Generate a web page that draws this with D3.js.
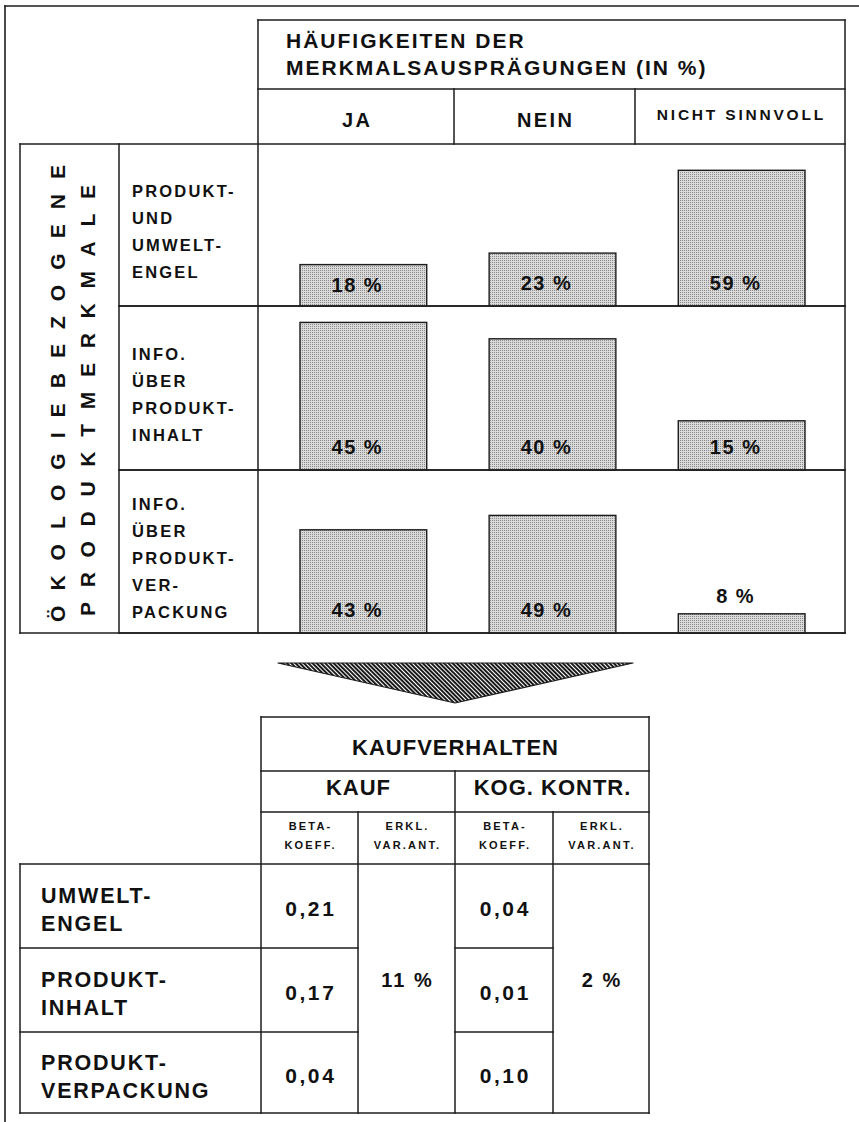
<!DOCTYPE html>
<html>
<head>
<meta charset="utf-8">
<script src="https://cdn.jsdelivr.net/npm/d3@7"></script>
<style>
  body { margin: 0; background: #fff; }
  svg { display: block; }
  text { font-family: "Liberation Sans", Arial, Helvetica, sans-serif; font-weight: bold; fill: #111; }
</style>
</head>
<body>
<script>
// chart data
var answers = ["JA", "NEIN", "NICHT SINNVOLL"];
var featureLabels = [
    ["PRODUKT-", "UND", "UMWELT-", "ENGEL"],
    ["INFO.", "ÜBER", "PRODUKT-", "INHALT"],
    ["INFO.", "ÜBER", "PRODUKT-", "VER-", "PACKUNG"]
];
var shares = [
    [18, 23, 59],
    [45, 40, 15],
    [43, 49, 8]
];
var sideTitle = ["ÖKOLOGIEBEZOGENE", "PRODUKTMERKMALE"];
var headTitle = ["HÄUFIGKEITEN DER", "MERKMALSAUSPRÄGUNGEN (IN %)"];

var tableTitle = "KAUFVERHALTEN";
var tableGroups = ["KAUF", "KOG. KONTR."];
var tableSub = [["BETA-", "KOEFF."], ["ERKL.", "VAR.ANT."]];
var tableLabels = [["UMWELT-", "ENGEL"], ["PRODUKT-", "INHALT"], ["PRODUKT-", "VERPACKUNG"]];
var kaufBeta = [0.21, 0.17, 0.04];
var kogBeta = [0.04, 0.01, 0.10];
var varAnt = [11, 2];

var de = d3.formatLocale({decimal: ",", thousands: ".", grouping: [3], currency: ["", " €"]});
var fmtBeta = de.format(".2f");

var width = 859, height = 1122;
var ink = "#1c1c1c";

var svg = d3.select("body").append("svg")
    .attr("width", width)
    .attr("height", height);

svg.append("rect").attr("width", width).attr("height", height).attr("fill", "#fff");

var defs = svg.append("defs");

// stipple fill of the bars
var dots = defs.append("pattern")
    .attr("id", "stipple")
    .attr("width", 2).attr("height", 2)
    .attr("patternUnits", "userSpaceOnUse");
dots.append("rect").attr("width", 2).attr("height", 2).attr("fill", "#dadada");
dots.append("rect").attr("width", 1).attr("height", 1).attr("fill", "#8a8a8a");

// hatching of the arrow
var hatch = defs.append("pattern")
    .attr("id", "hatch")
    .attr("width", 3).attr("height", 3)
    .attr("patternUnits", "userSpaceOnUse")
    .attr("patternTransform", "rotate(-45)");
hatch.append("rect").attr("width", 3).attr("height", 3).attr("fill", "#fff");
hatch.append("rect").attr("width", 2).attr("height", 3).attr("fill", "#1a1a1a");

function rule(x1, y1, x2, y2, w) {
    svg.append("line")
        .attr("x1", x1).attr("y1", y1)
        .attr("x2", x2).attr("y2", y2)
        .attr("stroke", ink)
        .attr("stroke-width", w || 1.5)
        .attr("stroke-linecap", "square");
}

function label(x, y, str, size, spacing, anchor) {
    var t = svg.append("text")
        .attr("x", x).attr("y", y)
        .attr("font-size", size)
        .attr("letter-spacing", spacing)
        .attr("text-anchor", anchor || "start")
        .text(str);
    // letter-spacing adds room after the last glyph, pull centred text back
    if (anchor === "middle") t.attr("dx", spacing / 2);
    return t;
}

// outer frame (top and left edge only are in the picture)
rule(5, 6, 859, 6, 1.6);
rule(5, 6, 5, 1122, 1.6);

// ---------- upper chart ----------
var left = 20, labelCol = 119, plotLeft = 258, plotRight = 845;
var headTop = 20, headMid = 89, headBottom = 144;
var colEdges = [plotLeft, 454, 635, plotRight];
var rowEdges = [headBottom, 306, 470, 633];
var pxPerRow = [2.30, 3.28, 2.40];   // each panel is drawn to its own height scale

// header box
rule(plotLeft, headTop, plotRight, headTop);
rule(plotLeft, headMid, plotRight, headMid);
rule(left, headBottom, plotRight, headBottom);
rule(plotRight, headTop, plotRight, rowEdges[3]);
rule(plotLeft, headTop, plotLeft, rowEdges[3]);
colEdges.slice(1, 3).forEach(function(x) { rule(x, headMid, x, headBottom); });

label(286, 48, headTitle[0], 21, 2);
label(286, 75, headTitle[1], 21, 2);

answers.forEach(function(a, i) {
    var cx = (colEdges[i] + colEdges[i + 1]) / 2;
    if (i < 2) label(cx, 127, a, 20, 2.4, "middle");
    else label(cx, 120, a, 15.5, 2.8, "middle");
});

// left structure
rule(left, headBottom, left, rowEdges[3]);
rule(labelCol, headBottom, labelCol, rowEdges[3]);
rule(left, rowEdges[3], plotRight, rowEdges[3]);
rule(labelCol, rowEdges[1], plotRight, rowEdges[1]);
rule(labelCol, rowEdges[2], plotRight, rowEdges[2]);

// rotated side title
var sideText = [
    {str: sideTitle[0], x: 65, y0: 622, y1: 165},
    {str: sideTitle[1], x: 95, y0: 616, y1: 185}
];
sideText.forEach(function(s) {
    svg.append("text")
        .attr("transform", "translate(" + s.x + "," + s.y0 + ") rotate(-90)")
        .attr("font-size", 21)
        .attr("textLength", s.y0 - s.y1)
        .attr("lengthAdjust", "spacing")
        .text(s.str);
});

// feature labels
featureLabels.forEach(function(lines, r) {
    var center = (rowEdges[r] + rowEdges[r + 1]) / 2;
    var first = center + 12 - (lines.length - 1) * 13.5;
    lines.forEach(function(l, k) {
        label(132, first + k * 27, l, 16.5, 2.2);
    });
});

// bars
var x = d3.scaleBand()
    .domain(answers)
    .range([300, 805])
    .paddingInner(0.33);

shares.forEach(function(row, r) {
    var bottom = rowEdges[r + 1];
    var y = d3.scaleLinear()
        .domain([0, 100])
        .range([bottom, bottom - pxPerRow[r] * 100]);

    var g = svg.append("g");
    g.selectAll("rect")
        .data(row)
        .enter().append("rect")
        .attr("x", function(d, i) { return x(answers[i]); })
        .attr("y", function(d) { return y(d); })
        .attr("width", x.bandwidth())
        .attr("height", function(d) { return bottom - y(d); })
        .attr("fill", "url(#stipple)")
        .attr("stroke", ink)
        .attr("stroke-width", 1.4);

    g.selectAll("text")
        .data(row)
        .enter().append("text")
        .attr("x", function(d, i) { return x(answers[i]) + x.bandwidth() / 2 - 6; })
        .attr("y", function(d) {
            var top = y(d);
            if (bottom - top < 30) return top - 11;
            return Math.max(bottom - 16, top + 27);
        })
        .attr("text-anchor", "middle")
        .attr("font-size", 20)
        .attr("letter-spacing", 1.5)
        .text(function(d) { return d + " %"; });

    // redraw the baseline over the bar bottoms
    rule(labelCol, bottom, plotRight, bottom);
});

// ---------- arrow ----------
svg.append("path")
    .attr("d", d3.line()([[278, 663], [633, 663], [455, 703]]) + "Z")
    .attr("fill", "url(#hatch)")
    .attr("stroke", ink)
    .attr("stroke-width", 1.2)
    .attr("stroke-linejoin", "round");

// ---------- lower table ----------
var tx = [20, 261, 358, 455, 553, 649];
var ty = [717, 771, 812, 864, 948, 1032, 1113];

rule(tx[1], ty[0], tx[5], ty[0]);
rule(tx[1], ty[1], tx[5], ty[1]);
rule(tx[1], ty[2], tx[5], ty[2]);
rule(tx[0], ty[3], tx[5], ty[3]);
rule(tx[0], ty[6], tx[5], ty[6]);
rule(tx[1], ty[0], tx[1], ty[6]);
rule(tx[5], ty[0], tx[5], ty[6]);
rule(tx[3], ty[1], tx[3], ty[6]);
rule(tx[2], ty[2], tx[2], ty[6]);
rule(tx[4], ty[2], tx[4], ty[6]);
rule(tx[0], ty[3], tx[0], ty[6]);
[ty[4], ty[5]].forEach(function(yy) {
    rule(tx[0], yy, tx[2], yy);
    rule(tx[3], yy, tx[4], yy);
});

label((tx[1] + tx[5]) / 2, 755, tableTitle, 22, 1, "middle");
tableGroups.forEach(function(gName, i) {
    label((tx[1 + 2 * i] + tx[3 + 2 * i]) / 2, 795, gName, 22, 1, "middle");
});
for (var c = 0; c < 4; c++) {
    var sub = tableSub[c % 2];
    var cx = (tx[c + 1] + tx[c + 2]) / 2;
    label(cx, 830, sub[0], 11, 2.2, "middle");
    label(cx, 849, sub[1], 11, 2.2, "middle");
}

tableLabels.forEach(function(lines, r) {
    var center = (ty[r + 3] + ty[r + 4]) / 2;
    label(41, center - 3, lines[0], 21.5, 1.8);
    label(41, center + 25, lines[1], 21.5, 1.8);
    label((tx[1] + tx[2]) / 2, center + 10, fmtBeta(kaufBeta[r]), 21, 2.6, "middle");
    label((tx[3] + tx[4]) / 2, center + 10, fmtBeta(kogBeta[r]), 21, 2.6, "middle");
});

label((tx[2] + tx[3]) / 2, 987, varAnt[0] + " %", 20, 2, "middle");
label((tx[4] + tx[5]) / 2, 987, varAnt[1] + " %", 20, 2, "middle");
</script>
</body>
</html>
